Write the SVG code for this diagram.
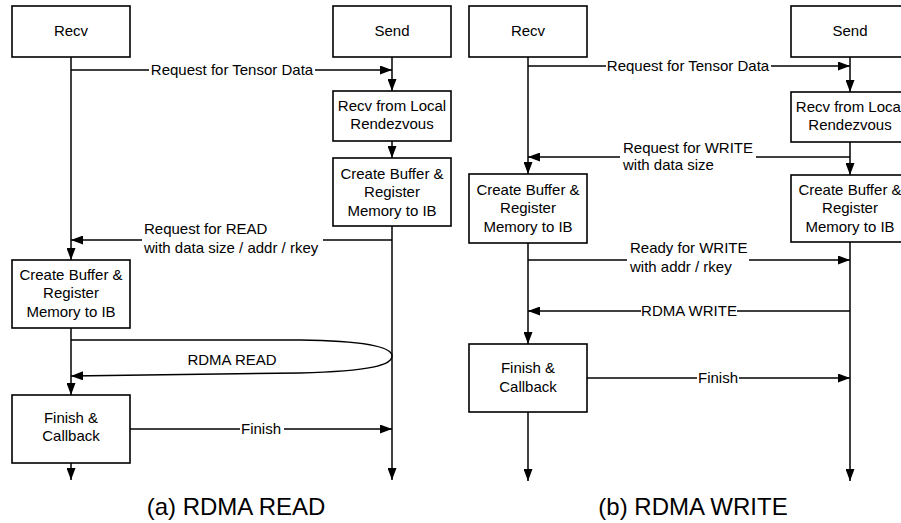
<svg xmlns="http://www.w3.org/2000/svg" width="901" height="523" viewBox="0 0 901 523">
<style>
.box{fill:#fff;stroke:#000;stroke-width:1.6}
.ln{fill:none;stroke:#000;stroke-width:1.5}
.t{font-family:"Liberation Sans",Arial,sans-serif;font-size:15px;fill:#000;text-anchor:middle}
.tl{font-family:"Liberation Sans",Arial,sans-serif;font-size:15px;fill:#000;text-anchor:start}
.cap{font-family:"Liberation Sans",Arial,sans-serif;font-size:24px;fill:#000;text-anchor:middle}
.bg{fill:#fff;stroke:none}
</style>
<defs>
<marker id="ah" markerUnits="userSpaceOnUse" markerWidth="12" markerHeight="9" refX="12" refY="4.5" orient="auto">
<path d="M0,0 L12,4.5 L0,9 z" fill="#000"/>
</marker>
</defs>
<rect width="901" height="523" fill="#fff"/>

<g id="connectors">
<!-- Left panel -->
<path class="ln" d="M71,57 V260" marker-end="url(#ah)"/>
<path class="ln" d="M71,328 V395" marker-end="url(#ah)"/>
<path class="ln" d="M71,463 V480" marker-end="url(#ah)"/>
<path class="ln" d="M392,57 V91" marker-end="url(#ah)"/>
<path class="ln" d="M392,141 V158" marker-end="url(#ah)"/>
<path class="ln" d="M392,226 V480" marker-end="url(#ah)"/>
<path class="ln" d="M71,70 H392" marker-end="url(#ah)"/>
<path class="ln" d="M392,240 H71" marker-end="url(#ah)"/>
<path class="ln" d="M71,340 L300,340 C372,341 392,348 392,356 C392,365 372,371 300,373 L71,376" marker-end="url(#ah)"/>
<path class="ln" d="M130,429 H392" marker-end="url(#ah)"/>
<!-- Right panel -->
<path class="ln" d="M528,57 V174" marker-end="url(#ah)"/>
<path class="ln" d="M528,243 V344" marker-end="url(#ah)"/>
<path class="ln" d="M528,412 V481" marker-end="url(#ah)"/>
<path class="ln" d="M850,57 V92" marker-end="url(#ah)"/>
<path class="ln" d="M850,142 V175" marker-end="url(#ah)"/>
<path class="ln" d="M850,242 V481" marker-end="url(#ah)"/>
<path class="ln" d="M528,66 H850" marker-end="url(#ah)"/>
<path class="ln" d="M850,157 H528" marker-end="url(#ah)"/>
<path class="ln" d="M528,260 H850" marker-end="url(#ah)"/>
<path class="ln" d="M850,311 H528" marker-end="url(#ah)"/>
<path class="ln" d="M587,378 H850" marker-end="url(#ah)"/>

<!-- labels -->
<rect class="bg" x="149" y="62" width="166" height="16"/>
<text class="t" x="232" y="75">Request for Tensor Data</text>
<rect class="bg" x="142" y="220" width="181" height="36"/>
<text class="tl" x="144" y="234">Request for READ</text>
<text class="tl" x="144" y="253">with data size / addr / rkey</text>
<text class="t" x="232" y="365">RDMA READ</text>
<rect class="bg" x="240" y="421" width="44" height="16"/>
<text class="t" x="261" y="434">Finish</text>

<rect class="bg" x="606" y="58" width="165" height="16"/>
<text class="t" x="688" y="71">Request for Tensor Data</text>
<rect class="bg" x="620" y="139" width="136" height="36"/>
<text class="tl" x="623" y="153">Request for WRITE</text>
<text class="tl" x="623" y="170">with data size</text>
<rect class="bg" x="627" y="240" width="122" height="36"/>
<text class="tl" x="630" y="253">Ready for WRITE</text>
<text class="tl" x="630" y="272">with addr / rkey</text>
<rect class="bg" x="641" y="303" width="96" height="16"/>
<text class="t" x="689" y="316">RDMA WRITE</text>
<rect class="bg" x="697" y="370" width="42" height="16"/>
<text class="t" x="718" y="383">Finish</text>
</g>

<g id="recv-a">
<rect class="box" x="12" y="6" width="118" height="51"/>
<text class="t" x="71" y="36">Recv</text>
</g>
<g id="send-a">
<rect class="box" x="333" y="6" width="118" height="51"/>
<text class="t" x="392" y="36">Send</text>
</g>
<g id="recvlocal-a">
<rect class="box" x="333" y="91" width="118" height="50"/>
<text class="t" x="392" y="111">Recv from Local</text>
<text class="t" x="392" y="129">Rendezvous</text>
</g>
<g id="createbuf-send-a">
<rect class="box" x="333" y="158" width="118" height="68"/>
<text class="t" x="392" y="179">Create Buffer &amp;</text>
<text class="t" x="392" y="197">Register</text>
<text class="t" x="392" y="216">Memory to IB</text>
</g>
<g id="createbuf-recv-a">
<rect class="box" x="12" y="260" width="118" height="68"/>
<text class="t" x="71" y="280">Create Buffer &amp;</text>
<text class="t" x="71" y="298">Register</text>
<text class="t" x="71" y="317">Memory to IB</text>
</g>
<g id="finish-a">
<rect class="box" x="12" y="395" width="118" height="68"/>
<text class="t" x="71" y="423">Finish &amp;</text>
<text class="t" x="71" y="441">Callback</text>
</g>
<text class="cap" x="236" y="515">(a) RDMA READ</text>

<g id="recv-b">
<rect class="box" x="469" y="6" width="118" height="51"/>
<text class="t" x="528" y="36">Recv</text>
</g>
<g id="send-b">
<rect class="box" x="791" y="6" width="118" height="51"/>
<text class="t" x="850" y="36">Send</text>
</g>
<g id="recvlocal-b">
<rect class="box" x="791" y="92" width="118" height="50"/>
<text class="t" x="850" y="112">Recv from Local</text>
<text class="t" x="850" y="130">Rendezvous</text>
</g>
<g id="createbuf-recv-b">
<rect class="box" x="469" y="174" width="118" height="69"/>
<text class="t" x="528" y="194.5">Create Buffer &amp;</text>
<text class="t" x="528" y="212.5">Register</text>
<text class="t" x="528" y="231.5">Memory to IB</text>
</g>
<g id="createbuf-send-b">
<rect class="box" x="791" y="175" width="118" height="67"/>
<text class="t" x="850" y="195">Create Buffer &amp;</text>
<text class="t" x="850" y="213">Register</text>
<text class="t" x="850" y="232">Memory to IB</text>
</g>
<g id="finish-b">
<rect class="box" x="469" y="344" width="118" height="68"/>
<text class="t" x="528" y="372.5">Finish &amp;</text>
<text class="t" x="528" y="391.5">Callback</text>
</g>
<text class="cap" x="693" y="515">(b) RDMA WRITE</text>
</svg>
